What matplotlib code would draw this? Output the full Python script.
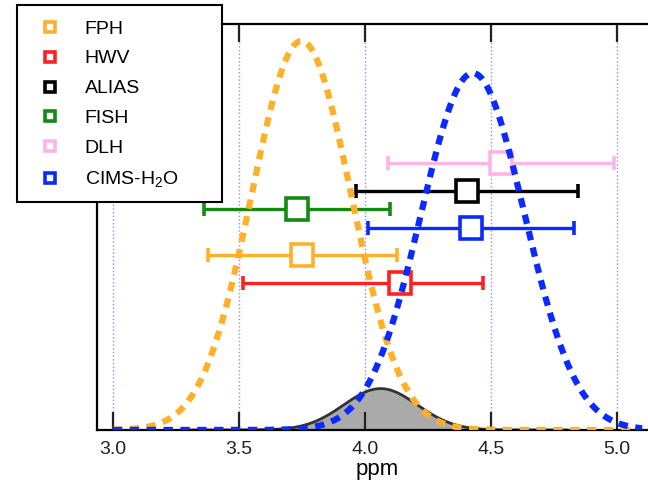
import matplotlib.pyplot as plt
from matplotlib.patches import Rectangle
import numpy as np

plt.rcParams['font.family'] = ['Liberation Sans', 'DejaVu Sans']
plt.rcParams['mathtext.default'] = 'regular'

# instruments: best estimate and error bar range (ppm), plotted at fixed heights
names = ['FPH', 'HWV', 'ALIAS', 'FISH', 'DLH', 'CIMS-H$_2$O']
colors = ['#FFB028', '#FF2020', '#000000', '#138A13', '#FFB3E6', '#0A2AFF']
best = [3.752, 4.141, 4.405, 3.729, 4.541, 4.419]
err_lo = [0.374, 0.624, 0.441, 0.368, 0.451, 0.408]
err_hi = [0.374, 0.326, 0.441, 0.370, 0.449, 0.411]
heights = [0.431, 0.363, 0.589, 0.544, 0.658, 0.497]

# distributions: mean, width and peak height
fph_pdf = (3.748, 0.197, 0.958)
cims_pdf = (4.428, 0.205, 0.879)
overlap_pdf = (4.062, 0.146, 0.102)

xticks = [3.0, 3.5, 4.0, 4.5, 5.0]


def gauss(x, p):
    m, s, a = p
    return a * np.exp(-(x - m) ** 2 / (2 * s ** 2))


W, H = 648, 487
fig = plt.figure(figsize=(W / 100, H / 100), dpi=100)
ax = fig.add_axes([97 / W, 57 / H, 560 / W, 406 / H])
ax.set_xlim(2.937, 5.159)
ax.set_ylim(0, 1)

for t in xticks:
    ax.axvline(t, color='#8C8CFF', lw=1.0, ls=':', zorder=0)

# overlap of the two distributions
xo = np.linspace(3.3, 4.8, 400)
ax.fill_between(xo, gauss(xo, overlap_pdf), color='#AAAAAA', zorder=1)
ax.plot(xo, gauss(xo, overlap_pdf), color='#333333', lw=2.0, zorder=2)

# measurements with error bars
for i in range(len(names)):
    ax.errorbar(best[i], heights[i], xerr=[[err_lo[i]], [err_hi[i]]],
                fmt='s', ms=16, mfc='white', mec=colors[i], mew=2.6,
                color=colors[i], ecolor=colors[i], elinewidth=2.4,
                capsize=5, capthick=2.4, zorder=3)

x = np.linspace(3.0, 5.1, 600)
ax.plot(x, gauss(x, fph_pdf), color=colors[0], lw=4.5, dashes=(1.5, 1.2), zorder=4)
ax.plot(x, gauss(x, cims_pdf), color=colors[5], lw=4.5, dashes=(1.5, 1.2), zorder=5)

ax.set_xticks(xticks)
ax.set_xticklabels(['%.1f' % t for t in xticks])
ax.set_yticks([])
ax.tick_params(axis='x', direction='in', length=13, width=1.6, top=True,
               labelsize=14, pad=8, colors='#222222')
for s in ax.spines.values():
    s.set_linewidth(1.6)
ax.set_xlabel('ppm', fontsize=16, labelpad=1)

# legend box drawn separately so it can be wider than its entries
fig.add_artist(Rectangle((17 / W, 1 - 202 / H), 205 / W, 197 / H,
                         transform=fig.transFigure, facecolor='white',
                         edgecolor='black', lw=1.5, zorder=9))
handles = [plt.Line2D([], [], ls='none', marker='s', ms=7, mfc='white',
                      mec=c, mew=2.6) for c in colors]
leg = fig.legend(handles, names, loc='upper left',
                 bbox_to_anchor=(40 / W, 1 - 20 / H), fontsize=14,
                 frameon=False, handlelength=1.0, handletextpad=1.3,
                 labelspacing=0.63, borderpad=0, borderaxespad=0)
leg.set_zorder(10)

fig.savefig('out.png', dpi=100)
